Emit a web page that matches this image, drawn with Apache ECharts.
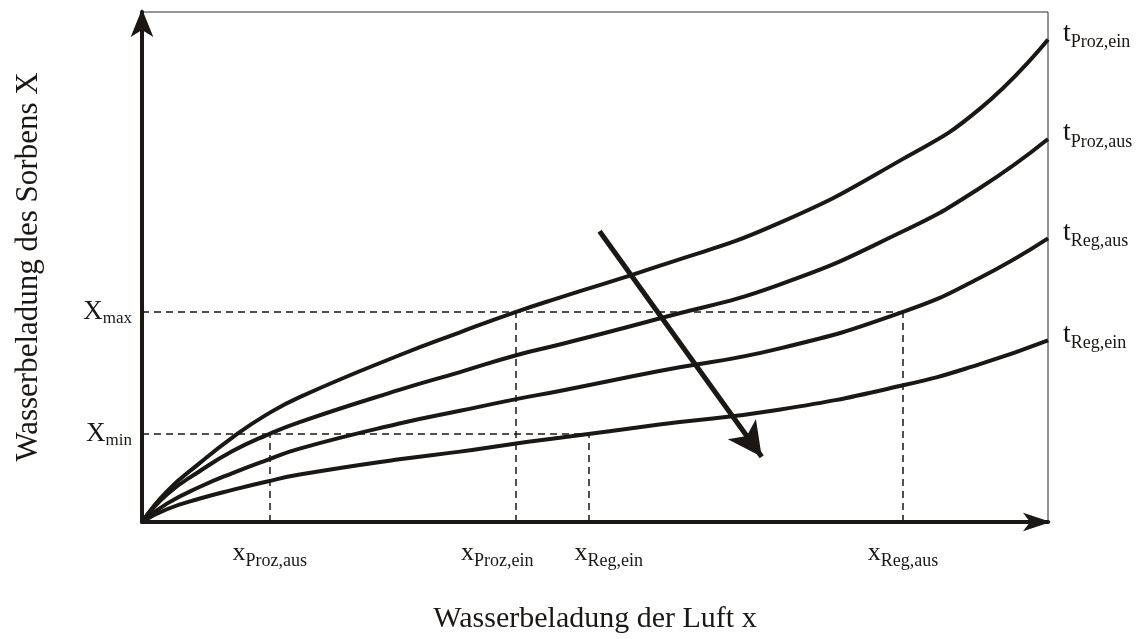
<!DOCTYPE html>
<html>
<head>
<meta charset="utf-8">
<script src="https://cdn.jsdelivr.net/npm/echarts@6/dist/echarts.min.js"></script>
<style>
  html, body { margin: 0; padding: 0; background: #ffffff; }
  #chart { width: 1139px; height: 639px; }
</style>
</head>
<body>
<div id="chart"></div>
<script>
// Wasserbeladung der Luft x (normierte Skala 0..100)
const airLoading = [0, 2.75, 6.4, 10.0, 13.7, 17.4, 28.4, 35.1, 41.3, 46.1, 57.1, 70.3, 84.0, 92.4, 100];

// Sorptionsisothermen: Wasserbeladung des Sorbens X (normiert 0..100)
const tProzEin = [0, 6.0, 11.6, 16.6, 21.0, 24.5, 32.7, 37.2, 41.2, 44.0, 50.2, 58.6, 71.2, 80.9, 94.6];
const tProzAus = [0, 5.4, 10.0, 13.9, 17.0, 19.6, 25.9, 29.4, 32.7, 34.8, 39.9, 46.5, 57.0, 65.4, 75.1];
const tRegAus  = [0, 3.6, 6.9, 9.6, 12.1, 14.4, 19.3, 21.8, 24.1, 25.7, 29.6, 34.0, 41.2, 47.8, 55.6];
const tRegEin  = [0, 2.5, 4.6, 6.3, 7.9, 9.3, 12.3, 13.8, 15.4, 16.5, 19.1, 22.0, 26.8, 30.9, 35.6];

const isothermSubs = ['Proz,ein', 'Proz,aus', 'Reg,aus', 'Reg,ein'];
const isotherms = [tProzEin, tProzAus, tRegAus, tRegEin];

// Kennwerte der Sorbensbeladung
const X_MIN = 17.3;
const X_MAX = 41.2;

// Kennwerte der Luftbeladung
const xProzAus = 14.1;
const xProzEin = 41.3;
const xRegEin  = 49.3;
const xRegAus  = 84.0;

// Pfeil: Richtung steigender Temperatur
const arrowFrom = [50.5, 57.0];
const arrowTo   = [68.4, 12.8];

const SERIF = 'Liberation Serif';
const INK = '#1a1714';

const richX = {
  big: { fontFamily: SERIF, fontSize: 27, color: INK },
  sub: { fontFamily: SERIF, fontSize: 17, color: INK, padding: [14, 0, 0, 0] }
};
const richLow = {
  big: { fontFamily: SERIF, fontSize: 26, color: INK },
  sub: { fontFamily: SERIF, fontSize: 18, color: INK, padding: [16, 0, 0, 0] }
};
const richT = {
  big: { fontFamily: SERIF, fontSize: 28, color: INK },
  sub: { fontFamily: SERIF, fontSize: 18, color: INK, padding: [18, 0, 0, 0] }
};

const dashed = { color: INK, width: 1.5, type: [7, 5] };

function hLine(y, xEnd, sub) {
  return [
    { coord: [0, y], label: { show: true, position: 'start', distance: 10,
        formatter: '{big|X}{sub|' + sub + '}', rich: richX } },
    { coord: [xEnd, y] }
  ];
}
function vLine(x, yEnd, sub, dx) {
  return [
    { coord: [x, 0], label: { show: true, position: 'start', distance: 14, offset: [dx, 0],
        formatter: '{big|x}{sub|' + sub + '}', rich: richLow } },
    { coord: [x, yEnd] }
  ];
}

const series = isotherms.map((vals, i) => ({
  type: 'line',
  data: airLoading.map((x, k) => [x, vals[k]]),
  smooth: 0.5,
  showSymbol: false,
  lineStyle: { color: INK, width: 4 },
  endLabel: {
    show: true,
    distance: 15,
    offset: [0, -6],
    formatter: '{big|t}{sub|' + isothermSubs[i] + '}',
    rich: richT
  },
  z: 3
}));

// Hilfslinien für X_min / X_max und die zugehörigen Luftbeladungen
series[0].markLine = {
  silent: true,
  symbol: ['none', 'none'],
  lineStyle: dashed,
  label: { show: true },
  data: [
    hLine(X_MAX, xRegAus, 'max'),
    hLine(X_MIN, xRegEin, 'min'),
    vLine(xProzAus, X_MIN, 'Proz,aus', 0),
    vLine(xProzEin, X_MAX, 'Proz,ein', -19),
    vLine(xRegEin, X_MIN, 'Reg,ein', 20),
    vLine(xRegAus, X_MAX, 'Reg,aus', 0)
  ]
};

// Temperaturpfeil
series[1].markLine = {
  silent: true,
  symbol: ['none', 'arrow'],
  symbolSize: [26, 34],
  lineStyle: { color: INK, width: 5, type: 'solid' },
  label: { show: false },
  data: [[{ coord: arrowFrom }, { coord: arrowTo }]]
};

const chart = echarts.init(document.getElementById('chart'), null, { renderer: 'canvas' });
chart.setOption({
  animation: false,
  backgroundColor: '#ffffff',
  grid: {
    left: 142, right: 91, top: 12, bottom: 113,
    show: true, borderColor: '#2a2a2a', borderWidth: 1, backgroundColor: 'transparent'
  },
  xAxis: {
    type: 'value', min: 0, max: 100,
    name: 'Wasserbeladung der Luft x',
    nameLocation: 'middle', nameGap: 82,
    nameTextStyle: { fontFamily: SERIF, fontSize: 30, color: INK },
    axisLine: { show: true, onZero: false, symbol: ['none', 'arrow'], symbolSize: [14, 28],
      symbolOffset: [0, 3], lineStyle: { color: INK, width: 4 } },
    axisTick: { show: false }, axisLabel: { show: false }, splitLine: { show: false }
  },
  yAxis: {
    type: 'value', min: 0, max: 100,
    name: 'Wasserbeladung des Sorbens X',
    nameLocation: 'middle', nameGap: 98, nameRotate: 90,
    nameTextStyle: { fontFamily: SERIF, fontSize: 31, color: INK },
    axisLine: { show: true, onZero: false, symbol: ['none', 'arrow'], symbolSize: [17, 28],
      symbolOffset: [0, 3], lineStyle: { color: INK, width: 4 } },
    axisTick: { show: false }, axisLabel: { show: false }, splitLine: { show: false }
  },
  series: series
});
</script>
</body>
</html>
